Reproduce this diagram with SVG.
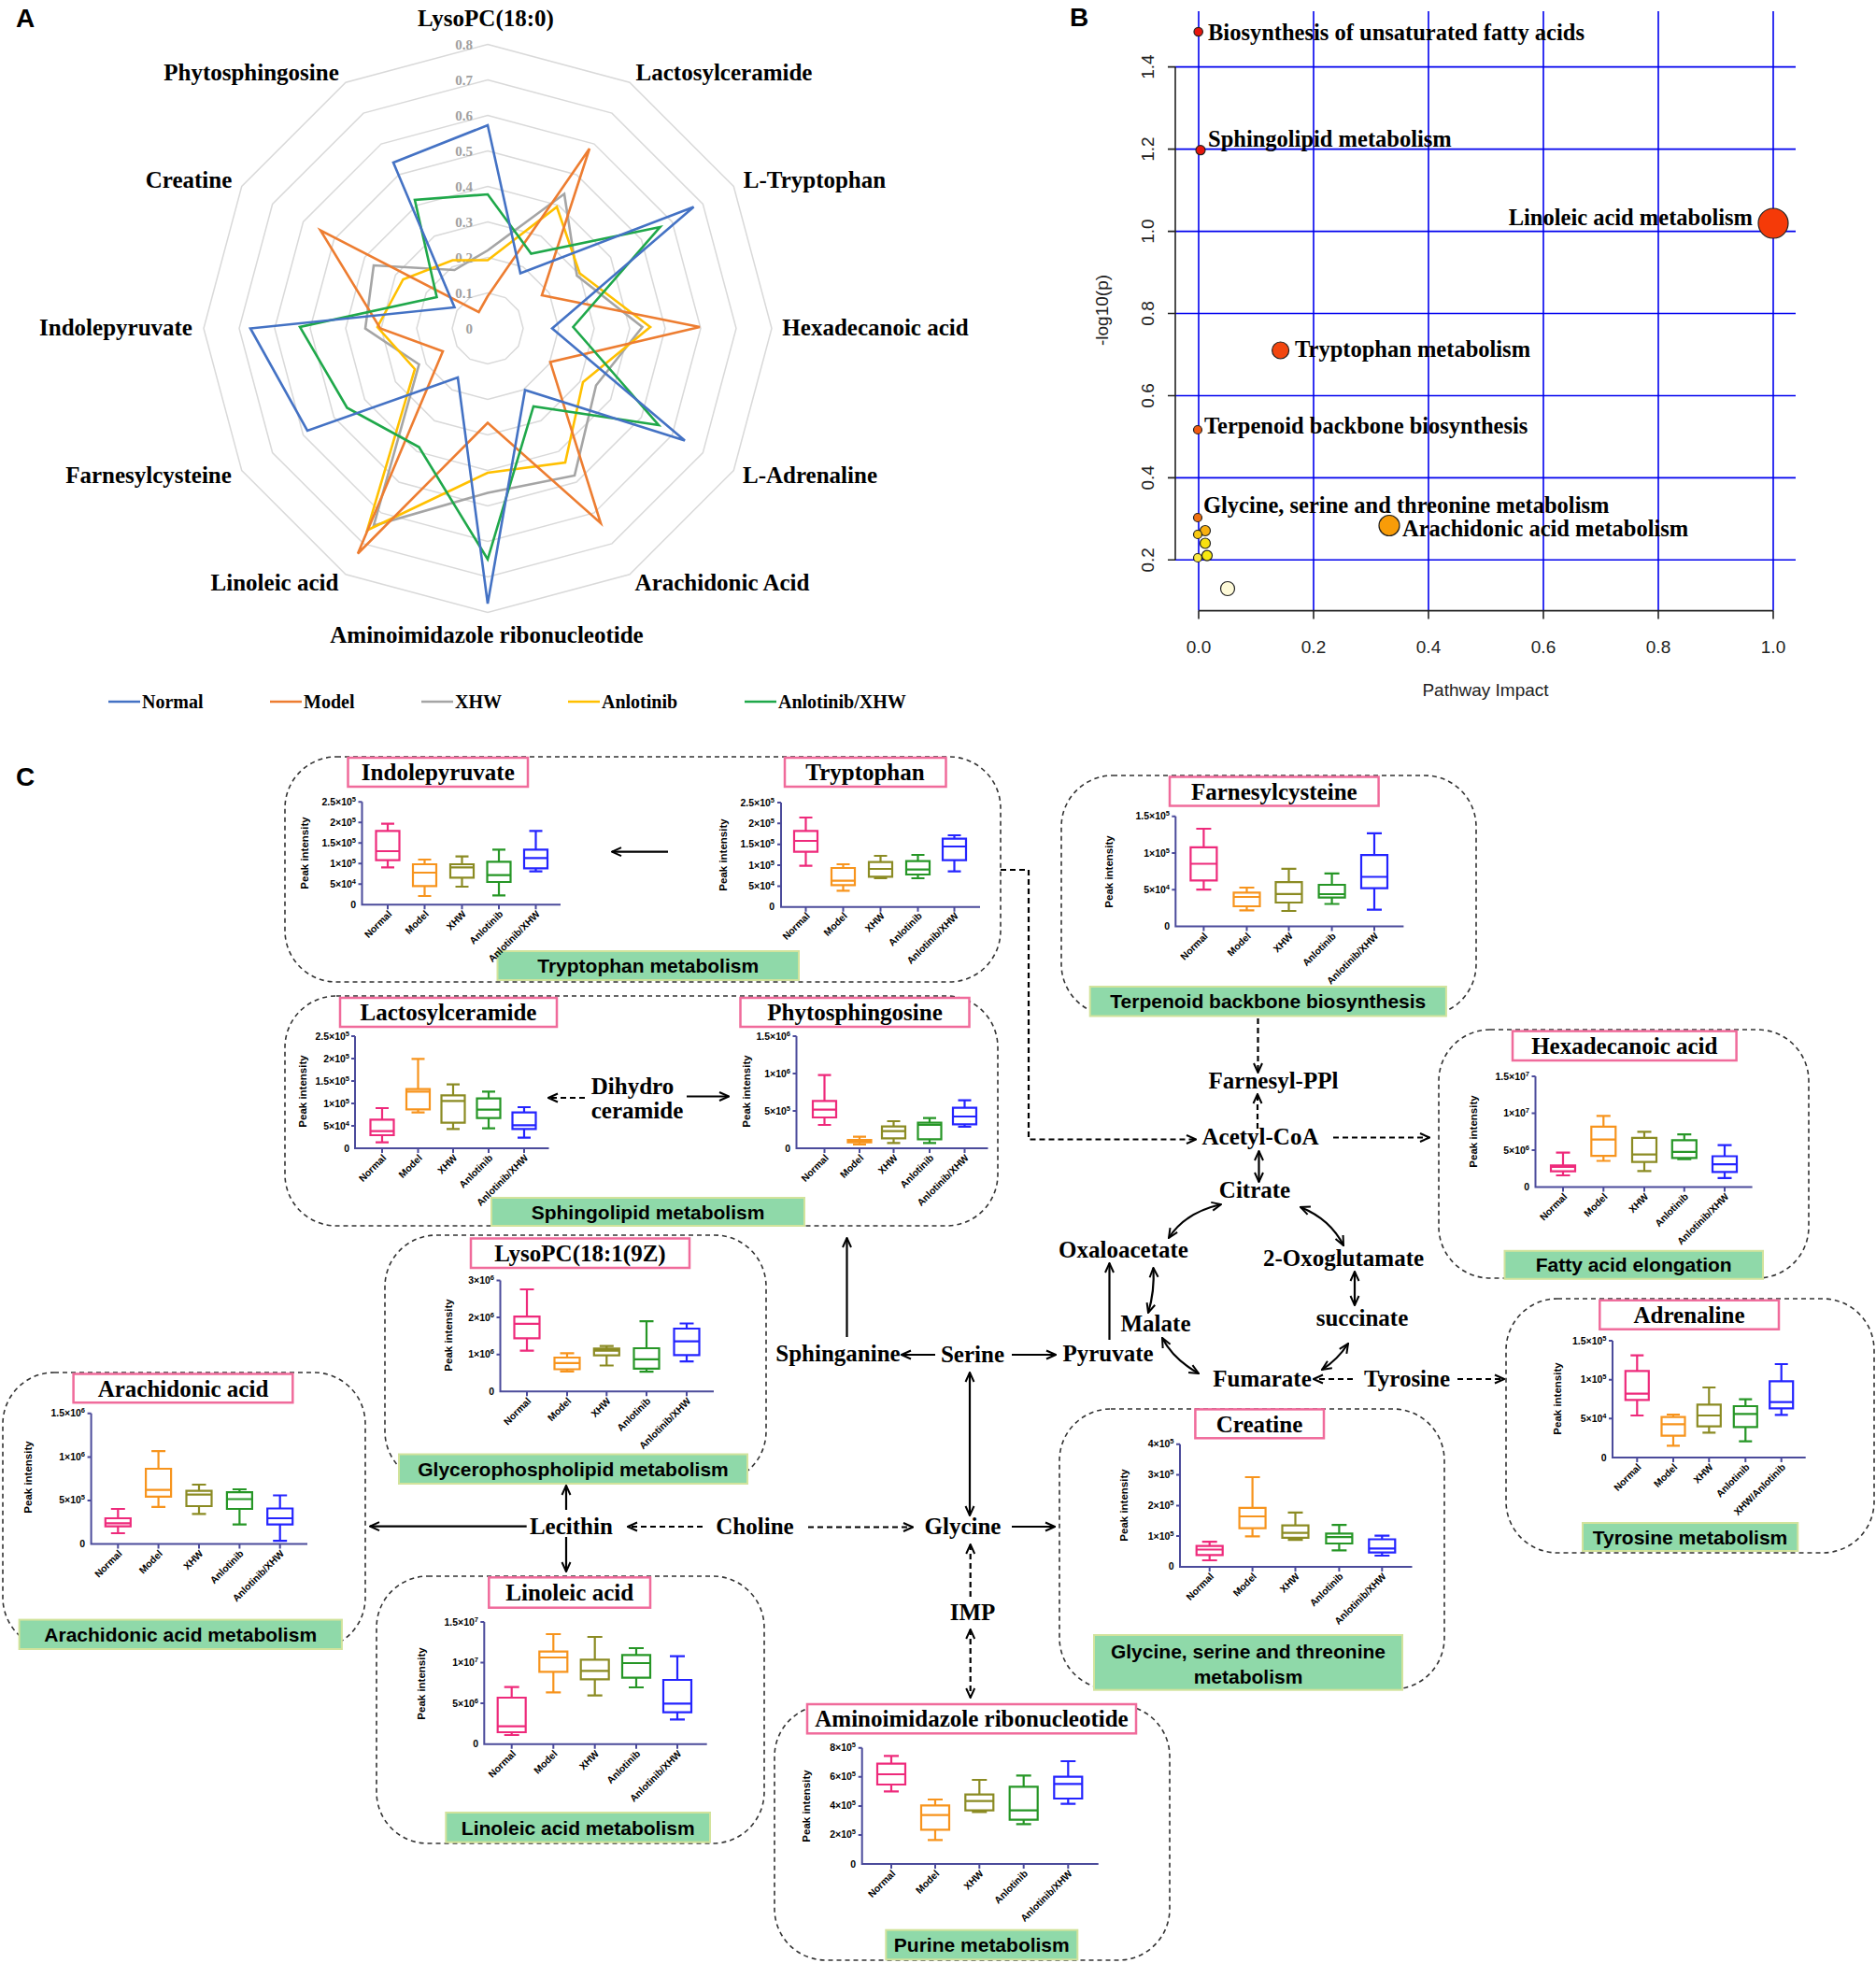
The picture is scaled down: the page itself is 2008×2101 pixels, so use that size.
<svg xmlns="http://www.w3.org/2000/svg" width="2008" height="2101" viewBox="0 0 2008 2101">
<style>
.ser{font-family:"Liberation Serif","Times New Roman",serif;font-weight:bold;fill:#000}
.sans{font-family:"Liberation Sans",Arial,sans-serif}
.pl{font-family:"Liberation Sans",Arial,sans-serif;font-weight:bold;fill:#000}
.rl{font-size:25px;text-anchor:middle}
.rt{font-family:"Liberation Serif",serif;font-weight:bold;font-size:15px;fill:#a0a0a0;text-anchor:end}
.lg{font-size:20px}
.ser-b{font-size:24.5px}
.rad{fill:none;stroke-width:2.6;stroke-linejoin:miter}
.grid{fill:none;stroke:#0000ee;stroke-width:1.6}
.axb{fill:none;stroke:#222;stroke-width:1.6}
.bt{font-size:19px;fill:#222}
.dot{stroke:#222;stroke-width:1.2}
.box{fill:none;stroke:#333;stroke-width:1.6;stroke-dasharray:5,4}
.ttl{fill:#fff;stroke:#f06b9b;stroke-width:2.5}
.tt{font-size:25px;text-anchor:middle}
.gr{fill:#8fd9a9;stroke:#d2e39c;stroke-width:2}
.gt{font-family:"Liberation Sans",Arial,sans-serif;font-weight:bold;font-size:21px;text-anchor:middle;fill:#000}
.ax{fill:none;stroke:#4b4b9b;stroke-width:2}
.tl{font-size:10.5px;text-anchor:end}
.sp{font-size:7.5px}
.pi{font-size:11.5px;text-anchor:middle}
.cl{font-size:10.5px;text-anchor:end}
.c1,.c2,.c3,.c4,.c5{fill:none;stroke-width:2.2}
.c1{stroke:#ee2a7b}.c2{stroke:#f7941d}.c3{stroke:#8b8b23}.c4{stroke:#269626}.c5{stroke:#2424ff}
.mt{font-size:25px;text-anchor:middle}
.cn{fill:none;stroke:#000;stroke-width:2.2}
.ds{stroke-dasharray:6,4}
</style>
<defs>
<polygon id="dod" points="0,-100 50,-86.6 86.6,-50 100,0 86.6,50 50,86.6 0,100 -50,86.6 -86.6,50 -100,0 -86.6,-50 -50,-86.6" fill="none" vector-effect="non-scaling-stroke"/>
<marker id="ar" viewBox="0 0 12 12" refX="11" refY="6" markerWidth="12" markerHeight="12" markerUnits="userSpaceOnUse" orient="auto-start-reverse"><path d="M1,1.5L11,6L1,10.5" fill="none" stroke="#000" stroke-width="2"/></marker>
</defs>
<rect width="2008" height="2101" fill="#fff"/>

<!-- Panel A -->
<g id="panelA">
<text class="pl" x="17" y="29" font-size="28">A</text>
<g stroke="#d9d9d9" stroke-width="1.5">
<use href="#dod" transform="translate(522,351.5) scale(0.38)"/>
<use href="#dod" transform="translate(522,351.5) scale(0.76)"/>
<use href="#dod" transform="translate(522,351.5) scale(1.14)"/>
<use href="#dod" transform="translate(522,351.5) scale(1.52)"/>
<use href="#dod" transform="translate(522,351.5) scale(1.9)"/>
<use href="#dod" transform="translate(522,351.5) scale(2.28)"/>
<use href="#dod" transform="translate(522,351.5) scale(2.66)"/>
<use href="#dod" transform="translate(522,351.5) scale(3.04)"/>
</g>
<g>
<text class="rt" x="506" y="356.5">0</text>
<text class="rt" x="506" y="318.5">0.1</text>
<text class="rt" x="506" y="280.5">0.2</text>
<text class="rt" x="506" y="242.5">0.3</text>
<text class="rt" x="506" y="204.5">0.4</text>
<text class="rt" x="506" y="166.5">0.5</text>
<text class="rt" x="506" y="128.5">0.6</text>
<text class="rt" x="506" y="90.5">0.7</text>
<text class="rt" x="506" y="52.5">0.8</text>
</g>
<polygon class="rad" stroke="#a5a5a5" points="522,268 604,207.5 617.5,295 687.5,350 638,412.5 615,509 522,527.5 400,562.5 448.5,390 391,351.5 400,284 486.5,289"/>
<polygon class="rad" stroke="#ffc000" points="522,278.5 596,221.5 620.5,292.5 696,350 624,409 605,495 522,506 393,567.5 444,395 404,350 431.5,299 484.5,278.5"/>
<polygon class="rad" stroke="#ed7d31" points="522,317 631,159 580,316 749,350 589,387.5 643,560 522,452.5 383,592.5 474,376 407,351.5 343,246.5 512.5,334"/>
<polygon class="rad" stroke="#1fa84a" points="522,208 568.5,271.5 706.5,243 613.5,350 705,455 571,435 522,598.5 448.5,478.5 371.5,436.5 321,350 467.5,318 444,214"/>
<polygon class="rad" stroke="#4472c4" points="522,134 557,292.5 742.5,221.5 591,351.5 733,471.5 562,417.5 522,646 490,404 329,461 268,351.5 486.5,329 421,174"/>
<g class="ser rl">
<text x="520" y="28">LysoPC(18:0)</text>
<text x="775" y="86">Lactosylceramide</text>
<text x="872" y="201">L-Tryptophan</text>
<text x="937" y="359">Hexadecanoic acid</text>
<text x="867" y="517">L-Adrenaline</text>
<text x="773" y="632">Arachidonic Acid</text>
<text x="521" y="688">Aminoimidazole ribonucleotide</text>
<text x="294" y="632">Linoleic acid</text>
<text x="159" y="517">Farnesylcysteine</text>
<text x="124" y="359">Indolepyruvate</text>
<text x="202" y="201">Creatine</text>
<text x="269" y="86">Phytosphingosine</text>
</g>
<g stroke-width="2.6">
<line x1="116" y1="751" x2="150" y2="751" stroke="#4472c4"/>
<line x1="289" y1="751" x2="323" y2="751" stroke="#ed7d31"/>
<line x1="451" y1="751" x2="485" y2="751" stroke="#a5a5a5"/>
<line x1="608" y1="751" x2="642" y2="751" stroke="#ffc000"/>
<line x1="797" y1="751" x2="831" y2="751" stroke="#1fa84a"/>
</g>
<g class="ser lg">
<text x="152" y="758">Normal</text>
<text x="325" y="758">Model</text>
<text x="487" y="758">XHW</text>
<text x="644" y="758">Anlotinib</text>
<text x="833" y="758">Anlotinib/XHW</text>
</g>
</g>

<!-- Panel B -->
<g id="panelB">
<text class="pl" x="1145" y="28" font-size="28">B</text>
<path class="grid" d="M1283,12V653.6M1406,12V653.6M1529,12V653.6M1652,12V653.6M1775,12V653.6M1898,12V653.6M1258,71.6H1922M1258,159.6H1922M1258,247.6H1922M1258,335.5H1922M1258,423.5H1922M1258,511.4H1922M1258,599.3H1922"/>
<path class="axb" d="M1258,71.6V599.3M1250,71.6H1258M1250,159.6H1258M1250,247.6H1258M1250,335.5H1258M1250,423.5H1258M1250,511.4H1258M1250,599.3H1258M1283,653.6H1898M1283,653.6v9M1406,653.6v9M1529,653.6v9M1652,653.6v9M1775,653.6v9M1898,653.6v9"/>
<g class="sans bt" text-anchor="middle">
<text transform="translate(1235,71.6) rotate(-90)">1.4</text>
<text transform="translate(1235,159.6) rotate(-90)">1.2</text>
<text transform="translate(1235,247.6) rotate(-90)">1.0</text>
<text transform="translate(1235,335.5) rotate(-90)">0.8</text>
<text transform="translate(1235,423.5) rotate(-90)">0.6</text>
<text transform="translate(1235,511.4) rotate(-90)">0.4</text>
<text transform="translate(1235,599.3) rotate(-90)">0.2</text>
<text transform="translate(1186,332) rotate(-90)">-log10(p)</text>
<text x="1283" y="699">0.0</text>
<text x="1406" y="699">0.2</text>
<text x="1529" y="699">0.4</text>
<text x="1652" y="699">0.6</text>
<text x="1775" y="699">0.8</text>
<text x="1898" y="699">1.0</text>
<text x="1590" y="745">Pathway Impact</text>
</g>
<g class="dot">
<circle cx="1282.7" cy="34" r="4.7" fill="#e8160c"/>
<circle cx="1285" cy="160.7" r="5" fill="#e8160c"/>
<circle cx="1898" cy="239" r="16" fill="#f53a08"/>
<circle cx="1370.6" cy="375" r="9" fill="#f2460f"/>
<circle cx="1282" cy="460" r="4.5" fill="#f05a10"/>
<circle cx="1282" cy="554" r="4.5" fill="#f07010"/>
<circle cx="1487" cy="562.5" r="11" fill="#f89c08"/>
<circle cx="1290" cy="568" r="5.5" fill="#f8b010"/>
<circle cx="1282" cy="572" r="4.5" fill="#f8c810"/>
<circle cx="1290" cy="581.5" r="5.5" fill="#f8e010"/>
<circle cx="1292" cy="594.6" r="5.5" fill="#f8ea10"/>
<circle cx="1282" cy="597" r="4.5" fill="#fae840"/>
<circle cx="1314" cy="630" r="7.5" fill="#fefad8"/>
</g>
<g class="ser ser-b">
<text x="1293" y="43">Biosynthesis of unsaturated fatty acids</text>
<text x="1293" y="157">Sphingolipid metabolism</text>
<text x="1876" y="241" text-anchor="end">Linoleic acid metabolism</text>
<text x="1386" y="382">Tryptophan metabolism</text>
<text x="1289" y="464">Terpenoid backbone biosynthesis</text>
<text x="1288" y="549">Glycine, serine and threonine metabolism</text>
<text x="1501" y="574">Arachidonic acid metabolism</text>
</g>
</g>

<!-- Panel C -->
<text class="pl" x="17" y="841" font-size="28">C</text>

<g id="connectors">
<path class="cn" d="M715,911.7H655" marker-end="url(#ar)"/>
<path class="cn ds" d="M1071,931H1101V1219.5H1280" marker-end="url(#ar)"/>
<path class="cn ds" d="M626,1175H587" marker-end="url(#ar)"/>
<path class="cn" d="M735,1173.5H780" marker-end="url(#ar)"/>
<path class="cn ds" d="M1346.5,1090V1148" marker-end="url(#ar)"/>
<path class="cn ds" d="M1346,1208V1171" marker-end="url(#ar)"/>
<path class="cn ds" d="M1427,1217.5H1530" marker-end="url(#ar)"/>
<path class="cn" d="M1347.5,1232V1265" marker-start="url(#ar)" marker-end="url(#ar)"/>
<path class="cn" d="M1307,1289Q1268,1298 1251,1325" marker-start="url(#ar)" marker-end="url(#ar)"/>
<path class="cn" d="M1392,1292Q1424,1305 1438,1333" marker-start="url(#ar)" marker-end="url(#ar)"/>
<path class="cn" d="M1234.5,1357Q1236,1382 1229,1405" marker-start="url(#ar)" marker-end="url(#ar)"/>
<path class="cn" d="M1450,1361V1397" marker-start="url(#ar)" marker-end="url(#ar)"/>
<path class="cn" d="M1244,1432Q1256,1455 1283,1470" marker-start="url(#ar)" marker-end="url(#ar)"/>
<path class="cn" d="M1443,1438Q1432,1455 1415,1466" marker-start="url(#ar)" marker-end="url(#ar)"/>
<path class="cn ds" d="M1448,1476H1406" marker-end="url(#ar)"/>
<path class="cn ds" d="M1560,1476H1610" marker-end="url(#ar)"/>
<path class="cn" d="M1187.5,1434V1352" marker-end="url(#ar)"/>
<path class="cn" d="M1083,1450H1130" marker-end="url(#ar)"/>
<path class="cn" d="M1001,1450H965" marker-end="url(#ar)"/>
<path class="cn" d="M906.5,1431V1325" marker-end="url(#ar)"/>
<path class="cn" d="M1038,1469V1622" marker-start="url(#ar)" marker-end="url(#ar)"/>
<path class="cn ds" d="M865,1634.5H977" marker-end="url(#ar)"/>
<path class="cn ds" d="M752,1634H672" marker-end="url(#ar)"/>
<path class="cn" d="M563.7,1633.6H396" marker-end="url(#ar)"/>
<path class="cn" d="M606,1616V1590" marker-end="url(#ar)"/>
<path class="cn" d="M606,1645V1682" marker-end="url(#ar)"/>
<path class="cn" d="M1083,1634H1129" marker-end="url(#ar)"/>
<path class="cn ds" d="M1038.7,1709V1653" marker-end="url(#ar)"/>
<path class="cn ds" d="M1038.7,1744V1817" marker-start="url(#ar)" marker-end="url(#ar)"/>
</g>

<!-- Box 1: Tryptophan metabolism -->
<g id="box-tryptophan-metabolism">
<rect class="box" x="305" y="810" width="766" height="241" rx="55"/>
<rect class="gr" x="532.5" y="1018" width="322.5" height="31"/>
<text class="gt" x="693.7" y="1041">Tryptophan metabolism</text>
<g id="plot-indolepyruvate">
<rect class="ttl" x="372.5" y="811" width="192.5" height="31"/>
<text class="ser tt" x="468.8" y="835">Indolepyruvate</text>
<path class="ax" d="M387.5,858.3V968.3H600M383.5,858.3h4M383.5,880.3h4M383.5,902.3h4M383.5,924.3h4M383.5,946.3h4M415,968.3v5M454.5,968.3v5M494.5,968.3v5M534,968.3v5M573.5,968.3v5"/>
<g class="pl tl"><text x="381" y="862">2.5×10<tspan class="sp" dy="-4">5</tspan></text><text x="381" y="884">2×10<tspan class="sp" dy="-4">5</tspan></text><text x="381" y="906">1.5×10<tspan class="sp" dy="-4">5</tspan></text><text x="381" y="928">1×10<tspan class="sp" dy="-4">5</tspan></text><text x="381" y="950">5×10<tspan class="sp" dy="-4">4</tspan></text><text x="381" y="972">0</text></g>
<text class="pl pi" transform="translate(330,913) rotate(-90)">Peak intensity</text>
<g class="pl cl"><text transform="translate(420,979) rotate(-45)">Normal</text><text transform="translate(459.5,979) rotate(-45)">Model</text><text transform="translate(499.5,979) rotate(-45)">XHW</text><text transform="translate(539,979) rotate(-45)">Anlotinib</text><text transform="translate(578.5,979) rotate(-45)">Anlotinib/XHW</text></g>
<path class="c1" transform="translate(415,0)" d="M-7,881.7H7M0,881.7V889.3M-12.5,889.3H12.5V920.7H-12.5ZM-12.5,911H12.5M0,920.7V928.3M-7,928.3H7"/>
<path class="c2" transform="translate(454.5,0)" d="M-7,920H7M0,920V925M-12.5,925H12.5V948.3H-12.5ZM-12.5,934H12.5M0,948.3V959M-7,959H7"/>
<path class="c3" transform="translate(494.5,0)" d="M-7,916.7H7M0,916.7V925M-12.5,925H12.5V939.3H-12.5ZM-12.5,928.3H12.5M0,939.3V949M-7,949H7"/>
<path class="c4" transform="translate(534,0)" d="M-7,909.3H7M0,909.3V922.3M-12.5,922.3H12.5V944H-12.5ZM-12.5,936.7H12.5M0,944V958.3M-7,958.3H7"/>
<path class="c5" transform="translate(573.5,0)" d="M-7,889.3H7M0,889.3V909.3M-12.5,909.3H12.5V929.3H-12.5ZM-12.5,918.3H12.5M0,929.3V932.7M-7,932.7H7"/>
</g>
<g id="plot-tryptophan">
<rect class="ttl" x="840" y="811" width="172.5" height="31"/>
<text class="ser tt" x="926" y="835">Tryptophan</text>
<path class="ax" d="M836,859V970.7H1049M832,859h4M832,881.3h4M832,903.7h4M832,926h4M832,948.4h4M862.5,970.7v5M902.5,970.7v5M942.5,970.7v5M982.5,970.7v5M1021.5,970.7v5"/>
<g class="pl tl"><text x="829" y="862.5">2.5×10<tspan class="sp" dy="-4">5</tspan></text><text x="829" y="885">2×10<tspan class="sp" dy="-4">5</tspan></text><text x="829" y="907">1.5×10<tspan class="sp" dy="-4">5</tspan></text><text x="829" y="929.5">1×10<tspan class="sp" dy="-4">5</tspan></text><text x="829" y="952">5×10<tspan class="sp" dy="-4">4</tspan></text><text x="829" y="974">0</text></g>
<text class="pl pi" transform="translate(778,915) rotate(-90)">Peak intensity</text>
<g class="pl cl"><text transform="translate(867.5,981) rotate(-45)">Normal</text><text transform="translate(907.5,981) rotate(-45)">Model</text><text transform="translate(947.5,981) rotate(-45)">XHW</text><text transform="translate(987.5,981) rotate(-45)">Anlotinib</text><text transform="translate(1026.5,981) rotate(-45)">Anlotinib/XHW</text></g>
<path class="c1" transform="translate(862.5,0)" d="M-7,875H7M0,875V889.3M-12.5,889.3H12.5V911.7H-12.5ZM-12.5,900H12.5M0,911.7V926.7M-7,926.7H7"/>
<path class="c2" transform="translate(902.5,0)" d="M-7,925H7M0,925V929M-12.5,929H12.5V947.3H-12.5ZM-12.5,942.7H12.5M0,947.3V953.3M-7,953.3H7"/>
<path class="c3" transform="translate(942.5,0)" d="M-7,916H7M0,916V922.7M-12.5,922.7H12.5V938.3H-12.5ZM-12.5,930H12.5M0,938.3V940M-7,940H7"/>
<path class="c4" transform="translate(982.5,0)" d="M-7,915H7M0,915V921.7M-12.5,921.7H12.5V936H-12.5ZM-12.5,930.7H12.5M0,936V940M-7,940H7"/>
<path class="c5" transform="translate(1021.5,0)" d="M-7,894H7M0,894V897.7M-12.5,897.7H12.5V920.7H-12.5ZM-12.5,906H12.5M0,920.7V932.7M-7,932.7H7"/>
</g>
</g>

<!-- Box 2: Sphingolipid metabolism -->
<g id="box-sphingolipid-metabolism">
<rect class="box" x="305" y="1066" width="763" height="246" rx="55"/>
<rect class="gr" x="526" y="1282" width="335" height="30"/>
<text class="gt" x="693.5" y="1304.5">Sphingolipid metabolism</text>
<g id="plot-lactosylceramide">
<rect class="ttl" x="364" y="1068" width="232" height="31"/>
<text class="ser tt" x="480" y="1092">Lactosylceramide</text>
<path class="ax" d="M380,1109V1229H587.5M376,1109h4M376,1133h4M376,1157h4M376,1181h4M376,1205h4M409,1229v5M447.5,1229v5M485,1229v5M523,1229v5M561,1229v5"/>
<g class="pl tl"><text x="374" y="1112.5">2.5×10<tspan class="sp" dy="-4">5</tspan></text><text x="374" y="1136.5">2×10<tspan class="sp" dy="-4">5</tspan></text><text x="374" y="1160.5">1.5×10<tspan class="sp" dy="-4">5</tspan></text><text x="374" y="1184.5">1×10<tspan class="sp" dy="-4">5</tspan></text><text x="374" y="1208.5">5×10<tspan class="sp" dy="-4">4</tspan></text><text x="374" y="1232.5">0</text></g>
<text class="pl pi" transform="translate(328,1168) rotate(-90)">Peak intensity</text>
<g class="pl cl"><text transform="translate(414,1240) rotate(-45)">Normal</text><text transform="translate(452.5,1240) rotate(-45)">Model</text><text transform="translate(490,1240) rotate(-45)">XHW</text><text transform="translate(528,1240) rotate(-45)">Anlotinib</text><text transform="translate(566,1240) rotate(-45)">Anlotinib/XHW</text></g>
<path class="c1" transform="translate(409,0)" d="M-7,1186H7M0,1186V1198.3M-12.5,1198.3H12.5V1215H-12.5ZM-12.5,1210.7H12.5M0,1215V1222.7M-7,1222.7H7"/>
<path class="c2" transform="translate(447.5,0)" d="M-7,1133.3H7M0,1133.3V1165.7M-12.5,1165.7H12.5V1187.3H-12.5ZM-12.5,1168.3H12.5M0,1187.3V1190.7M-7,1190.7H7"/>
<path class="c3" transform="translate(485,0)" d="M-7,1160.7H7M0,1160.7V1172.3M-12.5,1172.3H12.5V1201.7H-12.5ZM-12.5,1178.3H12.5M0,1201.7V1208.3M-7,1208.3H7"/>
<path class="c4" transform="translate(523,0)" d="M-7,1168.3H7M0,1168.3V1175.7M-12.5,1175.7H12.5V1196.7H-12.5ZM-12.5,1187.7H12.5M0,1196.7V1207.7M-7,1207.7H7"/>
<path class="c5" transform="translate(561,0)" d="M-7,1185H7M0,1185V1190.7M-12.5,1190.7H12.5V1208.3H-12.5ZM-12.5,1204.3H12.5M0,1208.3V1217.7M-7,1217.7H7"/>
</g>
<g id="plot-phytosphingosine">
<rect class="ttl" x="792.5" y="1068" width="245" height="31"/>
<text class="ser tt" x="915" y="1092">Phytosphingosine</text>
<path class="ax" d="M852.5,1109V1229H1057.5M848.5,1109h4M848.5,1149h4M848.5,1189h4M882.5,1229v5M920,1229v5M956.5,1229v5M995,1229v5M1032.5,1229v5"/>
<g class="pl tl"><text x="846" y="1112.5">1.5×10<tspan class="sp" dy="-4">6</tspan></text><text x="846" y="1152.5">1×10<tspan class="sp" dy="-4">6</tspan></text><text x="846" y="1192.5">5×10<tspan class="sp" dy="-4">5</tspan></text><text x="846" y="1232.5">0</text></g>
<text class="pl pi" transform="translate(803,1168) rotate(-90)">Peak intensity</text>
<g class="pl cl"><text transform="translate(887.5,1240) rotate(-45)">Normal</text><text transform="translate(925,1240) rotate(-45)">Model</text><text transform="translate(961.5,1240) rotate(-45)">XHW</text><text transform="translate(1000,1240) rotate(-45)">Anlotinib</text><text transform="translate(1037.5,1240) rotate(-45)">Anlotinib/XHW</text></g>
<path class="c1" transform="translate(882.5,0)" d="M-7,1150.7H7M0,1150.7V1178.3M-12.5,1178.3H12.5V1196H-12.5ZM-12.5,1187.7H12.5M0,1196V1204M-7,1204H7"/>
<path class="c2" transform="translate(920,0)" d="M-7,1216.7H7M0,1216.7V1220M-12.5,1220H12.5V1222.7H-12.5ZM-12.5,1221.7H12.5M0,1222.7V1225M-7,1225H7"/>
<path class="c3" transform="translate(956.5,0)" d="M-7,1200H7M0,1200V1205.7M-12.5,1205.7H12.5V1218.3H-12.5ZM-12.5,1210.7H12.5M0,1218.3V1223.3M-7,1223.3H7"/>
<path class="c4" transform="translate(995,0)" d="M-7,1196.7H7M0,1196.7V1201.7M-12.5,1201.7H12.5V1219.3H-12.5ZM-12.5,1204H12.5M0,1219.3V1223.3M-7,1223.3H7"/>
<path class="c5" transform="translate(1032.5,0)" d="M-7,1177.7H7M0,1177.7V1185.7M-12.5,1185.7H12.5V1203.3H-12.5ZM-12.5,1195H12.5M0,1203.3V1206M-7,1206H7"/>
</g>
<g id="node-dihydroceramide"><text class="ser mt" x="677" y="1171">Dihydro</text><text class="ser mt" x="682" y="1197">ceramide</text></g>
</g>

<!-- Box 3: Terpenoid -->
<g id="box-terpenoid">
<rect class="box" x="1136" y="830" width="444" height="257" rx="55"/>
<rect class="gr" x="1166.7" y="1056" width="381.2" height="31.5"/>
<text class="gt" x="1357.3" y="1079">Terpenoid backbone biosynthesis</text>
<rect class="ttl" x="1252" y="831.5" width="223.6" height="31"/>
<text class="ser tt" x="1363.8" y="855.5">Farnesylcysteine</text>
<path class="ax" d="M1258.3,873.8V991.6H1502.4M1254.3,873.8h4M1254.3,913.1h4M1254.3,952.3h4M1288.4,991.6v5M1334.5,991.6v5M1379.5,991.6v5M1425.6,991.6v5M1471,991.6v5"/>
<g class="pl tl"><text x="1252" y="877.3">1.5×10<tspan class="sp" dy="-4">5</tspan></text><text x="1252" y="916.6">1×10<tspan class="sp" dy="-4">5</tspan></text><text x="1252" y="955.8">5×10<tspan class="sp" dy="-4">4</tspan></text><text x="1252" y="995.1">0</text></g>
<text class="pl pi" transform="translate(1191,933) rotate(-90)">Peak intensity</text>
<g class="pl cl"><text transform="translate(1293.4,1002.6) rotate(-45)">Normal</text><text transform="translate(1339.5,1002.6) rotate(-45)">Model</text><text transform="translate(1384.5,1002.6) rotate(-45)">XHW</text><text transform="translate(1430.6,1002.6) rotate(-45)">Anlotinib</text><text transform="translate(1476,1002.6) rotate(-45)">Anlotinib/XHW</text></g>
<path class="c1" transform="translate(1288.4,0)" d="M-8,887H8M0,887V906.9M-14,906.9H14V942.4H-14ZM-14,924.5H14M0,942.4V952.1M-8,952.1H8"/>
<path class="c2" transform="translate(1334.5,0)" d="M-8,950H8M0,950V955.3M-14,955.3H14V970H-14ZM-14,960H14M0,970V974.4M-8,974.4H8"/>
<path class="c3" transform="translate(1379.5,0)" d="M-8,929.9H8M0,929.9V944.2M-14,944.2H14V966H-14ZM-14,956.8H14M0,966V975M-8,975H8"/>
<path class="c4" transform="translate(1425.6,0)" d="M-8,934.9H8M0,934.9V947M-14,947H14V960.7H-14ZM-14,957H14M0,960.7V967.5M-8,967.5H8"/>
<path class="c5" transform="translate(1471,0)" d="M-8,891.8H8M0,891.8V915.1M-14,915.1H14V950.7H-14ZM-14,938.5H14M0,950.7V973.7M-8,973.7H8"/>
</g>

<!-- Box 4: Fatty acid elongation -->
<g id="box-fatty-acid-elongation">
<rect class="box" x="1540" y="1102" width="396" height="266" rx="55"/>
<rect class="gr" x="1610.5" y="1338.8" width="276.5" height="30"/>
<text class="gt" x="1748.7" y="1361">Fatty acid elongation</text>
<rect class="ttl" x="1619" y="1103.6" width="239.6" height="31.4"/>
<text class="ser tt" x="1738.8" y="1128">Hexadecanoic acid</text>
<path class="ax" d="M1643.5,1152V1270.5H1875.6M1639.5,1152h4M1639.5,1191.5h4M1639.5,1231h4M1673,1270.5v5M1716.3,1270.5v5M1760,1270.5v5M1802.8,1270.5v5M1846,1270.5v5"/>
<g class="pl tl"><text x="1637" y="1155.5">1.5×10<tspan class="sp" dy="-4">7</tspan></text><text x="1637" y="1195">1×10<tspan class="sp" dy="-4">7</tspan></text><text x="1637" y="1234.5">5×10<tspan class="sp" dy="-4">6</tspan></text><text x="1637" y="1274">0</text></g>
<text class="pl pi" transform="translate(1581,1211) rotate(-90)">Peak intensity</text>
<g class="pl cl"><text transform="translate(1678,1281.5) rotate(-45)">Normal</text><text transform="translate(1721.3,1281.5) rotate(-45)">Model</text><text transform="translate(1765,1281.5) rotate(-45)">XHW</text><text transform="translate(1807.8,1281.5) rotate(-45)">Anlotinib</text><text transform="translate(1851,1281.5) rotate(-45)">Anlotinib/XHW</text></g>
<path class="c1" transform="translate(1673,0)" d="M-7.5,1233.6H7.5M0,1233.6V1247.3M-13,1247.3H13V1253.7H-13ZM-13,1249H13M0,1253.7V1258M-7.5,1258H7.5"/>
<path class="c2" transform="translate(1716.3,0)" d="M-7.5,1194.4H7.5M0,1194.4V1205.9M-13,1205.9H13V1237.2H-13ZM-13,1219.6H13M0,1237.2V1242.5M-7.5,1242.5H7.5"/>
<path class="c3" transform="translate(1760,0)" d="M-7.5,1211.3H7.5M0,1211.3V1217.8M-13,1217.8H13V1243.6H-13ZM-13,1235.7H13M0,1243.6V1253.3M-7.5,1253.3H7.5"/>
<path class="c4" transform="translate(1802.8,0)" d="M-7.5,1214.2H7.5M0,1214.2V1220.3M-13,1220.3H13V1239.3H-13ZM-13,1232.9H13M0,1239.3V1240.7M-7.5,1240.7H7.5"/>
<path class="c5" transform="translate(1846,0)" d="M-7.5,1225.7H7.5M0,1225.7V1237.5M-13,1237.5H13V1254.4H-13ZM-13,1246.1H13M0,1254.4V1260.9M-7.5,1260.9H7.5"/>
</g>

<!-- Box 5: Glycerophospholipid -->
<g id="box-glycerophospholipid">
<rect class="box" x="412" y="1322" width="408" height="265" rx="55"/>
<rect class="gr" x="427" y="1556.5" width="373" height="31.5"/>
<text class="gt" x="613.5" y="1579.5">Glycerophospholipid metabolism</text>
<rect class="ttl" x="504" y="1325.5" width="234" height="31.5"/>
<text class="ser tt" x="621" y="1350">LysoPC(18:1(9Z)</text>
<path class="ax" d="M535.5,1370.5V1489.3H764M531.5,1370.5h4M531.5,1410.1h4M531.5,1449.7h4M564,1489.3v5M607,1489.3v5M649.3,1489.3v5M692,1489.3v5M735,1489.3v5"/>
<g class="pl tl"><text x="529" y="1374">3×10<tspan class="sp" dy="-4">6</tspan></text><text x="529" y="1413.6">2×10<tspan class="sp" dy="-4">6</tspan></text><text x="529" y="1453.2">1×10<tspan class="sp" dy="-4">6</tspan></text><text x="529" y="1492.8">0</text></g>
<text class="pl pi" transform="translate(484,1429) rotate(-90)">Peak intensity</text>
<g class="pl cl"><text transform="translate(569,1500.3) rotate(-45)">Normal</text><text transform="translate(612,1500.3) rotate(-45)">Model</text><text transform="translate(654.3,1500.3) rotate(-45)">XHW</text><text transform="translate(697,1500.3) rotate(-45)">Anlotinib</text><text transform="translate(740,1500.3) rotate(-45)">Anlotinib/XHW</text></g>
<path class="c1" transform="translate(564,0)" d="M-7.5,1380H7.5M0,1380V1409.2M-13.5,1409.2H13.5V1432.4H-13.5ZM-13.5,1416.8H13.5M0,1432.4V1445.6M-7.5,1445.6H7.5"/>
<path class="c2" transform="translate(607,0)" d="M-7.5,1448.3H7.5M0,1448.3V1453M-13.5,1453H13.5V1465.5H-13.5ZM-13.5,1458.9H13.5M0,1465.5V1467.8M-7.5,1467.8H7.5"/>
<path class="c3" transform="translate(649.3,0)" d="M-7.5,1440.7H7.5M0,1440.7V1443.3M-13.5,1443.3H13.5V1450.6H-13.5ZM-13.5,1445.6H13.5M0,1450.6V1461.5M-7.5,1461.5H7.5"/>
<path class="c4" transform="translate(692,0)" d="M-7.5,1414.2H7.5M0,1414.2V1443M-13.5,1443H13.5V1464.8H-13.5ZM-13.5,1454.9H13.5M0,1464.8V1468.1M-7.5,1468.1H7.5"/>
<path class="c5" transform="translate(735,0)" d="M-7.5,1416.5H7.5M0,1416.5V1422M-13.5,1422H13.5V1450.3H-13.5ZM-13.5,1435.7H13.5M0,1450.3V1457.2M-7.5,1457.2H7.5"/>
</g>

<!-- Box 6: Arachidonic acid metabolism -->
<g id="box-arachidonic">
<rect class="box" x="3" y="1469" width="388" height="296" rx="55"/>
<rect class="gr" x="20.6" y="1733.6" width="345.3" height="31.4"/>
<text class="gt" x="193.2" y="1757">Arachidonic acid metabolism</text>
<rect class="ttl" x="78.6" y="1470.5" width="234.7" height="30.7"/>
<text class="ser tt" x="196" y="1494.5">Arachidonic acid</text>
<path class="ax" d="M97.6,1512.8V1652.5H329M93.6,1512.8h4M93.6,1559.4h4M93.6,1605.9h4M126.3,1652.5v5M169.6,1652.5v5M213,1652.5v5M256.4,1652.5v5M299.7,1652.5v5"/>
<g class="pl tl"><text x="91" y="1516.3">1.5×10<tspan class="sp" dy="-4">6</tspan></text><text x="91" y="1562.9">1×10<tspan class="sp" dy="-4">6</tspan></text><text x="91" y="1609.4">5×10<tspan class="sp" dy="-4">5</tspan></text><text x="91" y="1656">0</text></g>
<text class="pl pi" transform="translate(34,1581) rotate(-90)">Peak intensity</text>
<g class="pl cl"><text transform="translate(131.3,1663.5) rotate(-45)">Normal</text><text transform="translate(174.6,1663.5) rotate(-45)">Model</text><text transform="translate(218,1663.5) rotate(-45)">XHW</text><text transform="translate(261.4,1663.5) rotate(-45)">Anlotinib</text><text transform="translate(304.7,1663.5) rotate(-45)">Anlotinib/XHW</text></g>
<path class="c1" transform="translate(126.3,0)" d="M-7.5,1615H7.5M0,1615V1625M-13.5,1625H13.5V1633.6H-13.5ZM-13.5,1630.3H13.5M0,1633.6V1641M-7.5,1641H7.5"/>
<path class="c2" transform="translate(169.6,0)" d="M-7.5,1553.2H7.5M0,1553.2V1572M-13.5,1572H13.5V1601.9H-13.5ZM-13.5,1594.6H13.5M0,1601.9V1612.8M-7.5,1612.8H7.5"/>
<path class="c3" transform="translate(213,0)" d="M-7.5,1589H7.5M0,1589V1595.6M-13.5,1595.6H13.5V1612H-13.5ZM-13.5,1599.6H13.5M0,1612V1620.4M-7.5,1620.4H7.5"/>
<path class="c4" transform="translate(256.4,0)" d="M-7.5,1594H7.5M0,1594V1597.2M-13.5,1597.2H13.5V1615H-13.5ZM-13.5,1604.5H13.5M0,1615V1631.7M-7.5,1631.7H7.5"/>
<path class="c5" transform="translate(299.7,0)" d="M-7.5,1600.5H7.5M0,1600.5V1614.5M-13.5,1614.5H13.5V1631.7H-13.5ZM-13.5,1625H13.5M0,1631.7V1649.2M-7.5,1649.2H7.5"/>
</g>

<!-- Box 7: Linoleic acid metabolism -->
<g id="box-linoleic">
<rect class="box" x="403" y="1687" width="415" height="286" rx="55"/>
<rect class="gr" x="477.3" y="1940" width="282.7" height="31.7"/>
<text class="gt" x="618.7" y="1963.5">Linoleic acid metabolism</text>
<rect class="ttl" x="523.3" y="1688.3" width="172.7" height="32.4"/>
<text class="ser tt" x="609.7" y="1713">Linoleic acid</text>
<path class="ax" d="M518.3,1736V1866.7H756.7M514.3,1736h4M514.3,1779.6h4M514.3,1823.1h4M547.7,1866.7v5M592.3,1866.7v5M636.7,1866.7v5M681,1866.7v5M725,1866.7v5"/>
<g class="pl tl"><text x="512" y="1739.5">1.5×10<tspan class="sp" dy="-4">7</tspan></text><text x="512" y="1783.1">1×10<tspan class="sp" dy="-4">7</tspan></text><text x="512" y="1826.6">5×10<tspan class="sp" dy="-4">6</tspan></text><text x="512" y="1870.2">0</text></g>
<text class="pl pi" transform="translate(455,1802) rotate(-90)">Peak intensity</text>
<g class="pl cl"><text transform="translate(552.7,1877.7) rotate(-45)">Normal</text><text transform="translate(597.3,1877.7) rotate(-45)">Model</text><text transform="translate(641.7,1877.7) rotate(-45)">XHW</text><text transform="translate(686,1877.7) rotate(-45)">Anlotinib</text><text transform="translate(730,1877.7) rotate(-45)">Anlotinib/XHW</text></g>
<path class="c1" transform="translate(547.7,0)" d="M-8,1805.7H8M0,1805.7V1817M-15,1817H15V1854H-15ZM-15,1847.7H15M0,1854V1857M-8,1857H8"/>
<path class="c2" transform="translate(592.3,0)" d="M-8,1749H8M0,1749V1767.7M-15,1767.7H15V1789.3H-15ZM-15,1774H15M0,1789.3V1811.3M-8,1811.3H8"/>
<path class="c3" transform="translate(636.7,0)" d="M-8,1752H8M0,1752V1776.3M-15,1776.3H15V1797.3H-15ZM-15,1788.3H15M0,1797.3V1814.7M-8,1814.7H8"/>
<path class="c4" transform="translate(681,0)" d="M-8,1764H8M0,1764V1771.3M-15,1771.3H15V1795.7H-15ZM-15,1780H15M0,1795.7V1806M-8,1806H8"/>
<path class="c5" transform="translate(725,0)" d="M-8,1772.7H8M0,1772.7V1798M-15,1798H15V1832.7H-15ZM-15,1823.3H15M0,1832.7V1840.3M-8,1840.3H8"/>
</g>

<!-- Box 8: Tyrosine metabolism -->
<g id="box-tyrosine">
<rect class="box" x="1612" y="1390" width="394" height="272" rx="55"/>
<rect class="gr" x="1694" y="1630" width="230.3" height="30"/>
<text class="gt" x="1809" y="1652.5">Tyrosine metabolism</text>
<rect class="ttl" x="1712.3" y="1391.7" width="191.7" height="31"/>
<text class="ser tt" x="1808" y="1415.7">Adrenaline</text>
<path class="ax" d="M1726,1435V1560H1932.7M1722,1435h4M1722,1476.7h4M1722,1518.3h4M1752.3,1560v5M1791,1560v5M1829.3,1560v5M1868.3,1560v5M1906.7,1560v5"/>
<g class="pl tl"><text x="1719.5" y="1438.5">1.5×10<tspan class="sp" dy="-4">5</tspan></text><text x="1719.5" y="1480.2">1×10<tspan class="sp" dy="-4">5</tspan></text><text x="1719.5" y="1521.8">5×10<tspan class="sp" dy="-4">4</tspan></text><text x="1719.5" y="1563.5">0</text></g>
<text class="pl pi" transform="translate(1671,1497) rotate(-90)">Peak intensity</text>
<g class="pl cl"><text transform="translate(1757.3,1571) rotate(-45)">Normal</text><text transform="translate(1796,1571) rotate(-45)">Model</text><text transform="translate(1834.3,1571) rotate(-45)">XHW</text><text transform="translate(1873.3,1571) rotate(-45)">Anlotinib</text><text transform="translate(1911.7,1571) rotate(-45)">XHW/Anlotinib</text></g>
<path class="c1" transform="translate(1752.3,0)" d="M-7,1450.7H7M0,1450.7V1467.3M-12.5,1467.3H12.5V1498.3H-12.5ZM-12.5,1491.7H12.5M0,1498.3V1515M-7,1515H7"/>
<path class="c2" transform="translate(1791,0)" d="M-7,1514H7M0,1514V1516.7M-12.5,1516.7H12.5V1536.7H-12.5ZM-12.5,1524.3H12.5M0,1536.7V1547.3M-7,1547.3H7"/>
<path class="c3" transform="translate(1829.3,0)" d="M-7,1485H7M0,1485V1503.3M-12.5,1503.3H12.5V1526.7H-12.5ZM-12.5,1515H12.5M0,1526.7V1533.3M-7,1533.3H7"/>
<path class="c4" transform="translate(1868.3,0)" d="M-7,1497.7H7M0,1497.7V1505M-12.5,1505H12.5V1527.3H-12.5ZM-12.5,1513.3H12.5M0,1527.3V1542.7M-7,1542.7H7"/>
<path class="c5" transform="translate(1906.7,0)" d="M-7,1460H7M0,1460V1478.3M-12.5,1478.3H12.5V1507.3H-12.5ZM-12.5,1500.7H12.5M0,1507.3V1514.3M-7,1514.3H7"/>
</g>

<!-- Box 9: Glycine, serine and threonine metabolism -->
<g id="box-glycine">
<rect class="box" x="1134" y="1508" width="412" height="300" rx="55"/>
<rect class="gr" x="1171" y="1750" width="330" height="58.7"/>
<text class="gt" x="1336" y="1775">Glycine, serine and threonine</text>
<text class="gt" x="1336" y="1801.5">metabolism</text>
<rect class="ttl" x="1279.4" y="1508.4" width="137.6" height="30.9"/>
<text class="ser tt" x="1348" y="1532.5">Creatine</text>
<path class="ax" d="M1263,1545.8V1676.9H1511.5M1259,1545.8h4M1259,1578.6h4M1259,1611.4h4M1259,1644.1h4M1294.7,1676.9v5M1340.6,1676.9v5M1386.5,1676.9v5M1433.4,1676.9v5M1479.3,1676.9v5"/>
<g class="pl tl"><text x="1256.5" y="1549.3">4×10<tspan class="sp" dy="-4">5</tspan></text><text x="1256.5" y="1582.1">3×10<tspan class="sp" dy="-4">5</tspan></text><text x="1256.5" y="1614.9">2×10<tspan class="sp" dy="-4">5</tspan></text><text x="1256.5" y="1647.6">1×10<tspan class="sp" dy="-4">5</tspan></text><text x="1256.5" y="1680.4">0</text></g>
<text class="pl pi" transform="translate(1207,1611) rotate(-90)">Peak intensity</text>
<g class="pl cl"><text transform="translate(1299.7,1687.9) rotate(-45)">Normal</text><text transform="translate(1345.6,1687.9) rotate(-45)">Model</text><text transform="translate(1391.5,1687.9) rotate(-45)">XHW</text><text transform="translate(1438.4,1687.9) rotate(-45)">Anlotinib</text><text transform="translate(1484.3,1687.9) rotate(-45)">Anlotinib/XHW</text></g>
<path class="c1" transform="translate(1294.7,0)" d="M-8,1650.1H8M0,1650.1V1654.7M-14,1654.7H14V1664.3H-14ZM-14,1658.5H14M0,1664.3V1670M-8,1670H8"/>
<path class="c2" transform="translate(1340.6,0)" d="M-8,1581H8M0,1581V1613.8M-14,1613.8H14V1635.6H-14ZM-14,1623H14M0,1635.6V1644.4M-8,1644.4H8"/>
<path class="c3" transform="translate(1386.5,0)" d="M-8,1618.8H8M0,1618.8V1632.6M-14,1632.6H14V1645.9H-14ZM-14,1640.6H14M0,1645.9V1648.2M-8,1648.2H8"/>
<path class="c4" transform="translate(1433.4,0)" d="M-8,1632.2H8M0,1632.2V1641.3M-14,1641.3H14V1652H-14ZM-14,1645.2H14M0,1652V1659.3M-8,1659.3H8"/>
<path class="c5" transform="translate(1479.3,0)" d="M-8,1643.6H8M0,1643.6V1647.5M-14,1647.5H14V1661.6H-14ZM-14,1657.4H14M0,1661.6V1665M-8,1665H8"/>
</g>

<!-- Box 10: Purine metabolism -->
<g id="box-purine">
<rect class="box" x="829" y="1825" width="423" height="273" rx="55"/>
<rect class="gr" x="948.3" y="2065.7" width="205" height="31.6"/>
<text class="gt" x="1050.8" y="2089">Purine metabolism</text>
<rect class="ttl" x="864" y="1824" width="352" height="31.3"/>
<text class="ser tt" x="1040" y="1848">Aminoimidazole ribonucleotide</text>
<path class="ax" d="M922.7,1870.7V1995H1175.7M918.7,1870.7h4M918.7,1901.8h4M918.7,1932.9h4M918.7,1963.9h4M954,1995v5M1001,1995v5M1048.3,1995v5M1095.7,1995v5M1143.3,1995v5"/>
<g class="pl tl"><text x="916" y="1874.2">8×10<tspan class="sp" dy="-4">5</tspan></text><text x="916" y="1905.3">6×10<tspan class="sp" dy="-4">5</tspan></text><text x="916" y="1936.4">4×10<tspan class="sp" dy="-4">5</tspan></text><text x="916" y="1967.4">2×10<tspan class="sp" dy="-4">5</tspan></text><text x="916" y="1998.5">0</text></g>
<text class="pl pi" transform="translate(867,1933) rotate(-90)">Peak intensity</text>
<g class="pl cl"><text transform="translate(959,2006) rotate(-45)">Normal</text><text transform="translate(1006,2006) rotate(-45)">Model</text><text transform="translate(1053.3,2006) rotate(-45)">XHW</text><text transform="translate(1100.7,2006) rotate(-45)">Anlotinib</text><text transform="translate(1148.3,2006) rotate(-45)">Anlotinib/XHW</text></g>
<path class="c1" transform="translate(954,0)" d="M-8,1879.3H8M0,1879.3V1887.7M-15,1887.7H15V1910H-15ZM-15,1899H15M0,1910V1917.3M-8,1917.3H8"/>
<path class="c2" transform="translate(1001,0)" d="M-8,1926H8M0,1926V1932.3M-15,1932.3H15V1958.3H-15ZM-15,1942.7H15M0,1958.3V1969.3M-8,1969.3H8"/>
<path class="c3" transform="translate(1048.3,0)" d="M-8,1905H8M0,1905V1920.7M-15,1920.7H15V1937.7H-15ZM-15,1927.7H15M0,1937.7V1939.3M-8,1939.3H8"/>
<path class="c4" transform="translate(1095.7,0)" d="M-8,1900.3H8M0,1900.3V1912.3M-15,1912.3H15V1947.7H-15ZM-15,1937.7H15M0,1947.7V1952.3M-8,1952.3H8"/>
<path class="c5" transform="translate(1143.3,0)" d="M-8,1885H8M0,1885V1901.7M-15,1901.7H15V1925H-15ZM-15,1909.3H15M0,1925V1930.7M-8,1930.7H8"/>
</g>

<!-- Metabolite nodes -->
<g class="ser mt">
<text id="node-farnesyl-ppi" x="1363" y="1165">Farnesyl-PPl</text>
<text id="node-acetyl-coa" x="1349" y="1225">Acetyl-CoA</text>
<text id="node-citrate" x="1343" y="1282">Citrate</text>
<text id="node-oxaloacetate" x="1202.5" y="1346">Oxaloacetate</text>
<text id="node-2-oxoglutamate" x="1438" y="1355">2-Oxoglutamate</text>
<text id="node-malate" x="1237" y="1425">Malate</text>
<text id="node-succinate" x="1458" y="1419">succinate</text>
<text id="node-sphinganine" x="897" y="1457">Sphinganine</text>
<text id="node-serine" x="1041" y="1458">Serine</text>
<text id="node-pyruvate" x="1186" y="1457">Pyruvate</text>
<text id="node-fumarate" x="1351" y="1483.5">Fumarate</text>
<text id="node-tyrosine" x="1506" y="1483.5">Tyrosine</text>
<text id="node-lecithin" x="611.4" y="1642">Lecithin</text>
<text id="node-choline" x="808" y="1642">Choline</text>
<text id="node-glycine" x="1030.5" y="1642">Glycine</text>
<text id="node-imp" x="1041" y="1734">IMP</text>
</g>
</svg>
